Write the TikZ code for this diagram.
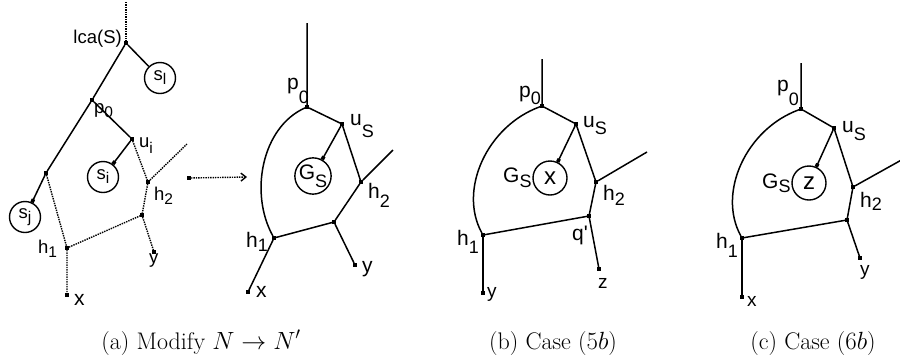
\documentclass[tikz,border=0pt]{standalone}
\usepackage{fontspec}
\newfontfamily\labfont{Liberation Sans}
\usetikzlibrary{arrows.meta}
% label with a lowered index
\newcommand{\ls}[3][9pt]{#2\raisebox{-#1}{\fontsize{18}{18}\selectfont #3}}
\newcommand{\lsa}[3][4pt]{#2\raisebox{-#1}{\fontsize{15.5}{15.5}\selectfont #3}}
\tikzset{
 vtx/.style={rectangle,fill=black,inner sep=0pt,minimum size=3.6pt},
 grp/.style={circle,draw,line width=1.4pt,inner sep=0pt,minimum size=34pt,
  font=\labfont\fontsize{21}{21}\selectfont},
 grpa/.style={grp,minimum size=31pt,font=\labfont\fontsize{18.5}{18.5}\selectfont},
 lab/.style={inner sep=0pt,anchor=base west,font=\labfont\fontsize{21}{21}\selectfont},
 laba/.style={lab,font=\labfont\fontsize{18.5}{18.5}\selectfont},
 ln/.style={line width=1.5pt},
 dln/.style={line width=1.4pt,densely dotted},
 att/.style={-{Square[length=3.6pt,width=3.6pt]}},
 capt/.style={anchor=base,inner sep=0pt,font=\fontsize{24}{29}\selectfont}
}
\begin{document}
\begin{tikzpicture}[x=1pt,y=-1pt]
 \useasboundingbox (0,0) rectangle (900,360);
 % (a) modify N -> N'
 \coordinate (topa) at (126,2);
 \node[vtx] (lca) at (126,43) {};
 \node[grpa] (sl) at (160,78) {\lsa{s}{l}};
 \node[vtx] (p0a) at (92,100) {};
 \node[vtx] (uia) at (132,139) {};
 \node[grpa] (si) at (103,177) {\lsa{s}{i}};
 \node[vtx] (ma) at (46,173) {};
 \node[grpa] (sj) at (25,217) {\lsa{s}{j}};
 \node[vtx] (h1a) at (67,248) {};
 \node[vtx] (xa) at (67,295) {};
 \node[vtx] (h2a) at (148,182) {};
 \coordinate (ura) at (187,144);
 \node[vtx] (qa) at (142,215) {};
 \node[vtx] (ya) at (154,252) {};
 \draw[dln] (topa) -- (lca);
 \draw[ln] (lca) -- (sl);
 \draw[ln] (lca) -- (p0a) -- (ma);
 \draw[ln,att] (ma) -- (sj);
 \draw[ln] (p0a) -- (uia);
 \draw[ln,att] (uia) -- (si);
 \draw[dln] (ma) -- (h1a) -- (xa);
 \draw[dln] (uia) -- (h2a) -- (ura);
 \draw[dln] (h2a) -- (qa) -- (ya);
 \draw[dln] (h1a) -- (qa);
 \node[laba,anchor=base east] (Llca) at (122,43) {lca(S)};
 \node[laba] (Lp0a) at (94,113) {\lsa{p}{0}};
 \node[laba] (Luia) at (139,147) {\lsa[6pt]{u}{i}};
 \node[laba] (Lh2a) at (154,200) {\lsa{h}{2}};
 \node[laba] (Lh1a) at (38,253) {\lsa{h}{1}};
 \node[laba] (Lya) at (149,263) {y};
 \node[lab] (Lxa) at (74,305) {x};
 \node[vtx] (arra) at (189,178) {};
 \coordinate (arrb) at (247,177);
 \draw[dln,-{Straight Barb[length=5pt,width=8pt]}] (arra) -- (arrb);
 % (b)
 \coordinate (topb) at (307,23);
 \node[vtx] (p0b) at (307,107) {};
 \node[vtx] (usb) at (342,124) {};
 \node[grp] (gsb) at (313,176) {\ls[8pt]{G}{S}};
 \node[vtx] (h2b) at (361,182) {};
 \coordinate (urb) at (393,150);
 \node[vtx] (qb) at (334,222) {};
 \node[vtx] (yb) at (355,265) {};
 \node[vtx] (h1b) at (274,238) {};
 \node[vtx] (xb) at (248,292) {};
 \draw[ln] (topb) -- (p0b) -- (usb) -- (h2b) -- (urb);
 \draw[ln,att] (usb) -- (gsb);
 \draw[ln] (h2b) -- (qb) -- (yb);
 \draw[ln] (h1b) -- (qb);
 \draw[ln] (h1b) -- (xb);
 \draw[ln] (p0b) .. controls +(-45,20) and +(-25,-45) .. (h1b);
 \node[lab] (Lp0b) at (287,89) {\ls[14pt]{p}{0}};
 \node[lab] (Lusb) at (350,125) {\ls[12pt]{u}{S}};
 \node[lab] (Lh2b) at (368,198) {\ls[9pt]{h}{2}};
 \node[lab] (Lh1b) at (246,247) {\ls[4pt]{h}{1}};
 \node[lab] (Lyb) at (362,272) {y};
 \node[lab] (Lxb) at (256,297) {x};
 % (c)
 \coordinate (topc) at (542,59);
 \node[vtx] (p0c) at (542,106) {};
 \node[vtx] (usc) at (576,124) {};
 \node[grp,font=\labfont\fontsize{24}{24}\selectfont] (xc) at (550,178) {x};
 \node[vtx] (h2c) at (596,182) {};
 \coordinate (urc) at (647,152);
 \node[vtx] (qc) at (589,216) {};
 \node[vtx] (zc) at (599,269) {};
 \node[vtx] (h1c) at (483,235) {};
 \node[vtx] (yc) at (483,293) {};
 \draw[ln] (topc) -- (p0c) -- (usc) -- (h2c) -- (urc);
 \draw[ln,att] (usc) -- (xc);
 \draw[ln] (h2c) -- (qc) -- (zc);
 \draw[ln] (h1c) -- (qc);
 \draw[ln] (h1c) -- (yc);
 \draw[ln] (p0c) .. controls +(-55,20) and +(-25,-45) .. (h1c);
 \node[lab] (Lp0c) at (519,97) {\ls[7pt]{p}{0}};
 \node[lab] (Lusc) at (583,127) {\ls[7pt]{u}{S}};
 \node[lab] (Lgsc) at (503,182) {\ls[5pt]{G}{S}};
 \node[lab] (Lh2c) at (603,200) {\ls[5pt]{h}{2}};
 \node[lab] (Lqc) at (572,240) {q\textquotesingle};
 \node[lab] (Lh1c) at (457,245) {\ls[8pt]{h}{1}};
 \node[lab,font=\labfont\fontsize{19}{19}\selectfont] (Lyc) at (487,297) {y};
 \node[lab,font=\labfont\fontsize{19}{19}\selectfont] (Lzc) at (598,288) {z};
 % (d)
 \coordinate (topd) at (801,63);
 \node[vtx] (p0d) at (801,109) {};
 \node[vtx] (usd) at (834,128) {};
 \node[grp,font=\labfont\fontsize{24}{24}\selectfont] (zd) at (809,183) {z};
 \node[vtx] (h2d) at (853,187) {};
 \coordinate (urd) at (905,158);
 \node[vtx] (qd) at (847,220) {};
 \node[vtx] (yd) at (860,258) {};
 \node[vtx] (h1d) at (742,238) {};
 \node[vtx] (xd) at (742,297) {};
 \draw[ln] (topd) -- (p0d) -- (usd) -- (h2d) -- (urd);
 \draw[ln,att] (usd) -- (zd);
 \draw[ln] (h2d) -- (qd) -- (yd);
 \draw[ln] (h1d) -- (qd);
 \draw[ln] (h1d) -- (xd);
 \draw[ln] (p0d) .. controls +(-55,20) and +(-25,-45) .. (h1d);
 \node[lab] (Lp0d) at (777,91) {\ls[14pt]{p}{0}};
 \node[lab] (Lusd) at (842,132) {\ls[8pt]{u}{S}};
 \node[lab] (Lgsd) at (762,188) {\ls[4pt]{G}{S}};
 \node[lab] (Lh2d) at (860,207) {\ls[3pt]{h}{2}};
 \node[lab] (Lh1d) at (716,248) {\ls[9pt]{h}{1}};
 \node[lab,font=\labfont\fontsize{19}{19}\selectfont] (Lyd) at (860,275) {y};
 \node[lab,font=\labfont\fontsize{19}{19}\selectfont] (Lxd) at (747,306) {x};
 % captions
 \node[capt] (capa) at (201,349) {(a) Modify $N\to N'$};
 \node[capt] (capb) at (553,349) {(b) Case ($5b$)};
 \node[capt] (capc) at (813,349) {(c) Case ($6b$)};
\end{tikzpicture}
\end{document}
